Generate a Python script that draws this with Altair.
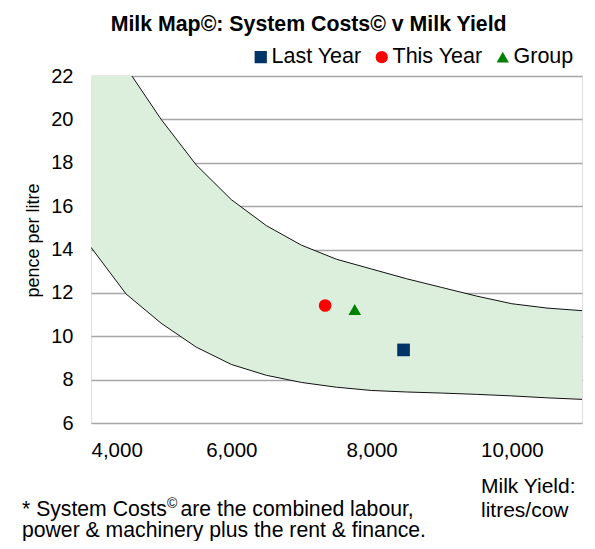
import altair as alt
import pandas as pd

FONT = "Liberation Sans"

# Band (System Costs range)
yield_x = [4000, 4500, 5000, 5500, 6000, 6500, 7000, 7500, 8000, 8500, 9000, 9500, 10000, 10500, 11000]
upper_cost = [25.3, 22.4, 20.0, 17.9, 16.3, 15.1, 14.2, 13.55, 13.1, 12.65, 12.25, 11.85, 11.5, 11.3, 11.18]
lower_cost = [14.1, 11.95, 10.6, 9.5, 8.7, 8.2, 7.87, 7.65, 7.5, 7.43, 7.38, 7.32, 7.25, 7.16, 7.09]

# Points
series = ["Last Year", "This Year", "Group"]
series_yield = [8456, 7338, 7760]
series_cost = [9.37, 11.42, 11.23]
series_colors = ["#003366", "#FF0000", "#008000"]
series_shapes = ["square", "circle", "triangle-up"]

x_ticks = [4000, 6000, 8000, 10000]
y_ticks = [6, 8, 10, 12, 14, 16, 18, 20, 22]

title_text = "Milk Map©: System Costs© v Milk Yield"
y_title = "pence per litre"
x_title_lines = ["Milk Yield:", "litres/cow"]
foot_1a = "* System Costs"
foot_1b = "©"
foot_1c = "are the combined labour,"
foot_2 = "power & machinery plus the rent & finance."

band_df = pd.DataFrame({"yield": yield_x, "upper": upper_cost, "lower": lower_cost})
points_df = pd.DataFrame({"series": series, "yield": series_yield, "cost": series_cost})

x_scale = alt.Scale(domain=[4000, 11000], nice=False, zero=False)
y_scale = alt.Scale(domain=[6, 22], nice=False, zero=False)

x_axis = alt.Axis(values=x_ticks, format=",.0f", title=None, grid=False, ticks=False,
                  domain=False, labelFontSize=20.5, labelPadding=17, labelFont=FONT,
                  labelColor="black")
y_axis = alt.Axis(values=y_ticks, title=y_title, grid=True, gridColor="#a6a6a6",
                  gridWidth=1.3, ticks=False, domain=False, labelFontSize=20,
                  labelPadding=18, labelFont=FONT, labelColor="black",
                  titleFont=FONT, titleFontSize=18, titleFontWeight="normal",
                  titleColor="black", titleX=-58, titleY=164, titleBaseline="middle")

X = alt.X("yield:Q", scale=x_scale, axis=x_axis)

area = alt.Chart(band_df).mark_area(color="#dcefdc", opacity=1, clip=True).encode(
    x=X,
    y=alt.Y("upper:Q", scale=y_scale, axis=y_axis),
    y2="lower:Q",
)

upper_line = alt.Chart(band_df).mark_line(color="#111111", strokeWidth=1, clip=True).encode(
    x=X, y=alt.Y("upper:Q", scale=y_scale, axis=y_axis)
)
lower_line = alt.Chart(band_df).mark_line(color="#111111", strokeWidth=1, clip=True).encode(
    x=X, y=alt.Y("lower:Q", scale=y_scale, axis=y_axis)
)

legend = alt.Legend(title=None, orient="none", legendX=159, legendY=-30,
                    direction="horizontal", labelFontSize=21.5, labelFont=FONT,
                    labelColor="black", symbolSize=150, symbolStrokeWidth=0,
                    labelOffset=0, columnPadding=9, padding=0)

points = alt.Chart(points_df).mark_point(filled=True, size=160, opacity=1, clip=True).encode(
    x=X,
    y=alt.Y("cost:Q", scale=y_scale, axis=y_axis),
    color=alt.Color("series:N", scale=alt.Scale(domain=series, range=series_colors),
                    sort=series, legend=legend),
    shape=alt.Shape("series:N", scale=alt.Scale(domain=series, range=series_shapes),
                    sort=series, legend=legend),
)


def note(text, x, y, size, weight="normal"):
    return alt.Chart(pd.DataFrame({"t": [text]})).mark_text(
        align="left", baseline="alphabetic", fontSize=size, font=FONT,
        fontWeight=weight, color="black"
    ).encode(x=alt.value(x), y=alt.value(y), text="t:N")


notes = [
    note(x_title_lines[0], 390, 417, 21),
    note(x_title_lines[1], 390, 440.5, 21),
    note(foot_1a, -69, 440, 21.2),
    note(foot_1b, 76, 432, 14),
    note(foot_1c, 89.5, 440, 21.2),
    note(foot_2, -69, 461, 21.2),
]

chart = alt.layer(area, upper_line, lower_line, points, *notes).properties(
    width=491,
    height=347,
    autosize=alt.AutoSizeParams(type="none"),
    padding={"left": 83, "top": 68, "right": 5, "bottom": 118},
    title=alt.TitleParams(text=title_text, font=FONT, fontSize=21.3, fontWeight="bold",
                          color="black", anchor="start", frame="group", dx=19.7,
                          dy=18.5, baseline="alphabetic", offset=12),
).configure_view(stroke="black", strokeWidth=1).configure(background="white")

chart.save("out.html", embed_options={"renderer": "svg", "actions": False})
